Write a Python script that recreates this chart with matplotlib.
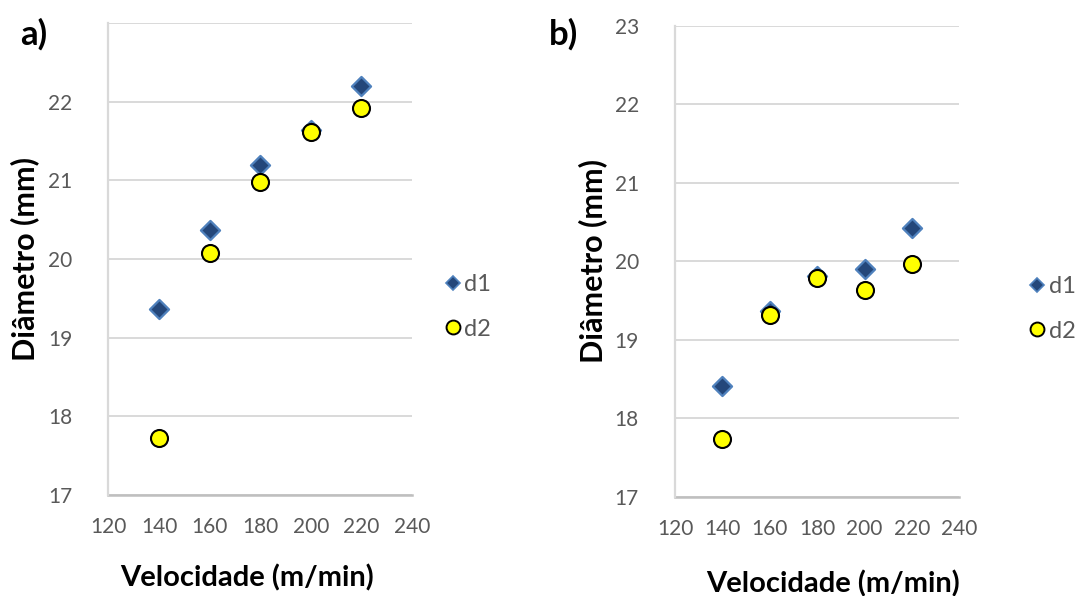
import matplotlib
matplotlib.use("Agg")
import matplotlib.pyplot as plt
from matplotlib.lines import Line2D

plt.rcParams['font.family'] = ['Lato', 'DejaVu Sans']

# Data
velocidade = [140, 160, 180, 200, 220]
a_d1 = [19.36, 20.37, 21.19, 21.64, 22.20]
a_d2 = [17.73, 20.07, 20.98, 21.61, 21.92]
b_d1 = [18.41, 19.37, 19.81, 19.90, 20.42]
b_d2 = [17.74, 19.32, 19.78, 19.63, 19.97]
x_ticks = [120, 140, 160, 180, 200, 220, 240]
a_y_ticks = [17, 18, 19, 20, 21, 22]
b_y_ticks = [17, 18, 19, 20, 21, 22, 23]
series_names = ['d1', 'd2']

GRID = '#d9d9d9'
TEXT = '#595959'
D1_FACE = '#24477a'
D1_EDGE = '#4f81bd'
D2_FACE = '#ffff00'

fig = plt.figure(figsize=(10.75, 5.96), dpi=100)

panels = [
    dict(rect=[0.1009, 0.1695, 0.2823, 0.7919], d1=a_d1, d2=a_d2, yt=a_y_ticks,
         tag='a)', tag_xy=(0.019, 0.943), ylab_x=0.023, xlab_xy=(0.2298, 0.030),
         leg=(0.4145, 0.485)),
    dict(rect=[0.6279, 0.1666, 0.2645, 0.7903], d1=b_d1, d2=b_d2, yt=b_y_ticks,
         tag='b)', tag_xy=(0.511, 0.943), ylab_x=0.551, xlab_xy=(0.775, 0.020),
         leg=(0.9585, 0.482)),
]

for p in panels:
    ax = fig.add_axes(p['rect'])
    ax.set_xlim(120, 240)
    ax.set_ylim(17, 23)
    # horizontal gridlines including the top one
    for yv in range(17, 24):
        ax.axhline(yv, color=GRID, lw=1.4, zorder=0)
    ax.scatter(velocidade, p['d1'], marker='D', s=95, facecolor=D1_FACE,
               edgecolor=D1_EDGE, linewidth=1.6, zorder=3)
    ax.scatter(velocidade, p['d2'], marker='o', s=150, facecolor=D2_FACE,
               edgecolor='black', linewidth=1.5, zorder=4)
    ax.set_xticks(x_ticks)
    ax.set_yticks(p['yt'])
    ax.tick_params(axis='both', length=0, labelsize=15, labelcolor=TEXT)
    ax.tick_params(axis='x', pad=16)
    ax.tick_params(axis='y', pad=26)
    for side in ['top', 'right']:
        ax.spines[side].set_visible(False)
    ax.spines['left'].set_color(GRID)
    ax.spines['left'].set_linewidth(1.6)
    ax.spines['bottom'].set_color('#bfbfbf')
    ax.spines['bottom'].set_linewidth(1.8)
    ax.spines['bottom'].set_zorder(1)

    box = ax.get_position()
    fig.text(p['xlab_xy'][0], p['xlab_xy'][1], 'Velocidade (m/min)',
             ha='center', va='center', fontsize=21, fontweight='bold')
    fig.text(p['ylab_x'], box.y0 + box.height / 2, 'Diâmetro (mm)',
             ha='center', va='center', rotation=90, fontsize=22, fontweight='bold')
    fig.text(p['tag_xy'][0], p['tag_xy'][1], p['tag'], ha='left', va='center',
             fontsize=25, fontweight='bold')

    handles = [
        Line2D([], [], ls='none', marker='D', markersize=7, markerfacecolor=D1_FACE,
               markeredgecolor=D1_EDGE, markeredgewidth=1.2),
        Line2D([], [], ls='none', marker='o', markersize=10, markerfacecolor=D2_FACE,
               markeredgecolor='black', markeredgewidth=1.4),
    ]
    fig.legend(handles, series_names, loc='center left', bbox_to_anchor=p['leg'],
               frameon=False, fontsize=17, labelcolor=TEXT, handlelength=0.6,
               handletextpad=0.2, labelspacing=1.0, borderpad=0, borderaxespad=0)

fig.savefig('out.png', dpi=100, facecolor='white')
